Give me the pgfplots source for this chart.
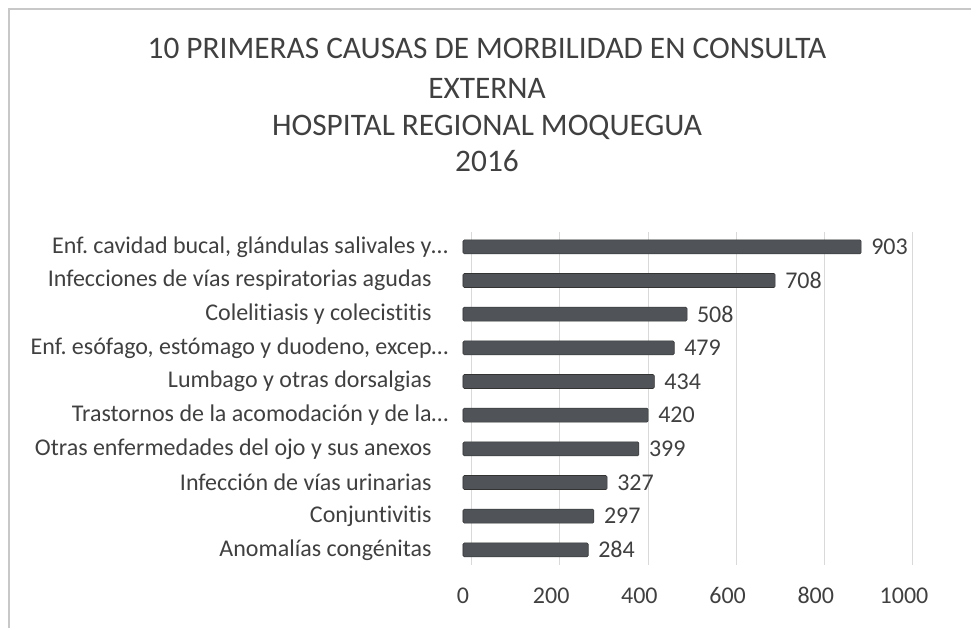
\documentclass[border=0pt]{standalone}
\usepackage{fontspec}
\setmainfont{Carlito}[Ligatures=NoCommon]
\usepackage{pgfplots}
\pgfplotsset{compat=1.18}
\frenchspacing

\definecolor{txt}{RGB}{64,64,64}
\definecolor{barc}{RGB}{80,84,88}
\definecolor{gridc}{RGB}{217,217,217}
\definecolor{framec}{RGB}{200,200,200}

\pgfplotstableread{
idx val
0 284
1 297
2 327
3 399
4 420
5 434
6 479
7 508
8 708
9 903
}\causas

\begin{document}
\begin{tikzpicture}[x=0.75pt,y=0.75pt]
% pixel coordinates of the reference, y measured upward (628 - row)
\path[use as bounding box] (0,0) rectangle (971,628);
\draw[framec,line width=1pt] (9,-10) -- (9,619) -- (980,619);

% title
\begin{scope}[every node/.style={txt,font=\fontsize{23.5}{28}\selectfont,anchor=base}]
\node at (487,569) {10 PRIMERAS CAUSAS DE MORBILIDAD EN CONSULTA};
\node at (487,529) {EXTERNA};
\node at (487,492) {HOSPITAL REGIONAL MOQUEGUA};
\node at (487,456) {2016};
\end{scope}

\begin{axis}[
    at={(347.25pt,47.25pt)}, anchor=south west,
    scale only axis, width=330.75pt, height=250pt,
    xbar, bar width=10.5pt,
    xmin=0, xmax=1000,
    ymin=-0.45, ymax=9.45,
    xtick={0,200,400,600,800,1000},
    ytick={0,...,9},
    yticklabels={Anomalías congénitas, Conjuntivitis, Infección de vías urinarias,
      Otras enfermedades del ojo y sus anexos, Trastornos de la acomodación y de la\rlap{…},
      Lumbago y otras dorsalgias, {Enf. esófago, estómago y duodeno, excep\rlap{…}},
      Colelitiasis y colecistitis, Infecciones de vías respiratorias agudas,
      {Enf. cavidad bucal, glándulas salivales y\rlap{…}}},
    axis line style={draw=none},
    major tick length=0pt,
    xmajorgrids, grid style={gridc, line width=0.8pt, xshift=6.5pt},
    tick label style={txt, font=\fontsize{18}{21}\selectfont},
    /pgf/number format/assume math mode=true,
    /pgf/number format/1000 sep={},
    xticklabel style={yshift=-13pt, text height=12pt, text depth=2pt},
    yticklabel style={xshift=-20pt},
    nodes near coords,
    nodes near coords style={txt, font=\fontsize{18}{21}\selectfont, anchor=west, xshift=4pt},
    clip=false,
]
\addplot[fill=barc, draw=black!80, rounded corners=1pt] table[x=val, y=idx] {\causas};
\end{axis}
\end{tikzpicture}
\end{document}
